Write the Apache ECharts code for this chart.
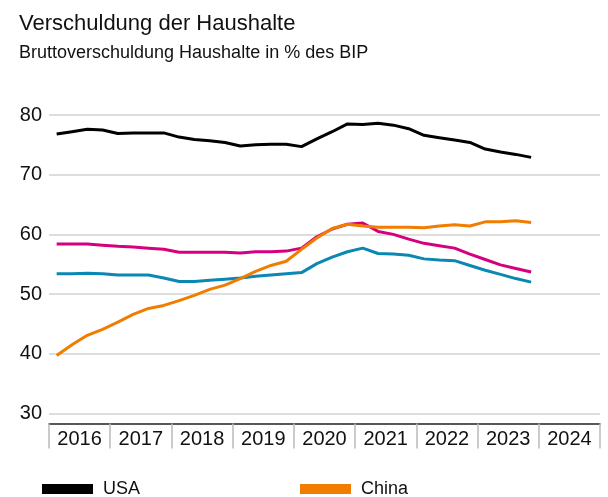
<!DOCTYPE html>
<html>
<head>
<meta charset="utf-8">
<script src="https://cdn.jsdelivr.net/npm/echarts@6/dist/echarts.min.js"></script>
<style>
  html, body { margin: 0; padding: 0; background: #fff; }
  #chart { width: 608px; height: 497px; }
</style>
</head>
<body>
<div id="chart"></div>
<script>
// Household gross debt, % of GDP, quarterly 2016 Q1 – 2023 Q4
const years = ['2016', '2017', '2018', '2019', '2020', '2021', '2022', '2023', '2024'];
const quarters = years.flatMap(y => ['Q1', 'Q2', 'Q3', 'Q4'].map(q => y + ' ' + q));
const yTicks = [30, 40, 50, 60, 70, 80];

const usa = [76.8, 77.2, 77.6, 77.5, 76.9, 77.0, 77.0, 77.0, 76.3, 75.9, 75.7, 75.4,
  74.8, 75.0, 75.1, 75.1, 74.7, 76.0, 77.2, 78.5, 78.4, 78.6, 78.3, 77.7,
  76.6, 76.2, 75.8, 75.4, 74.3, 73.8, 73.4, 72.9];
const euroraum = [58.4, 58.4, 58.4, 58.2, 58.0, 57.9, 57.7, 57.5, 57.0, 57.0, 57.0, 57.0,
  56.9, 57.1, 57.1, 57.2, 57.7, 59.6, 60.9, 61.7, 61.9, 60.5, 60.0, 59.2,
  58.5, 58.1, 57.7, 56.7, 55.8, 54.9, 54.3, 53.7];
const deutschland = [53.4, 53.4, 53.5, 53.4, 53.2, 53.2, 53.2, 52.7, 52.1, 52.1, 52.3, 52.5,
  52.7, 53.0, 53.2, 53.4, 53.6, 55.1, 56.2, 57.1, 57.7, 56.8, 56.7, 56.5,
  55.9, 55.7, 55.6, 54.8, 54.0, 53.3, 52.6, 52.0];
const china = [39.7, 41.5, 43.1, 44.1, 45.3, 46.6, 47.6, 48.1, 48.9, 49.8, 50.8, 51.5,
  52.6, 53.8, 54.8, 55.5, 57.5, 59.4, 61.0, 61.7, 61.4, 61.2, 61.2, 61.2,
  61.1, 61.4, 61.6, 61.4, 62.1, 62.1, 62.3, 62.0];

const sans = "'Liberation Sans', Arial, sans-serif";

const line = (name, data, color) => ({
  name, type: 'line', data, xAxisIndex: 1,
  showSymbol: false, symbol: 'none',
  lineStyle: { color, width: 3 }, itemStyle: { color },
  emphasis: { disabled: true }
});

const legendBase = {
  top: 480, padding: 0, icon: 'rect', itemWidth: 51, itemHeight: 10,
  textStyle: { fontFamily: sans, fontSize: 18, lineHeight: 10, color: '#111', padding: [0, 0, 0, 5] }
};

const chart = echarts.init(document.getElementById('chart'));
chart.setOption({
  animation: false,
  title: [
    { text: 'Verschuldung der Haushalte', left: 14, top: 8,
      textStyle: { fontFamily: sans, fontSize: 22, fontWeight: 'normal', color: '#111' } },
    { text: 'Bruttoverschuldung Haushalte in % des BIP', left: 14, top: 39,
      textStyle: { fontFamily: sans, fontSize: 18, fontWeight: 'normal', color: '#111' } }
  ],
  legend: [
    Object.assign({ left: 42, data: ['USA'] }, legendBase),
    Object.assign({ left: 300, data: ['China'] }, legendBase)
  ],
  grid: { left: 49, right: 8, top: 115, bottom: 83.5 },
  xAxis: [
    {
      type: 'category', data: years, boundaryGap: true, offset: 10,
      axisLine: { lineStyle: { color: '#222', width: 1.5 } },
      axisTick: { show: true, interval: 0, length: 25, lineStyle: { color: '#bbb', width: 1.5 } },
      axisLabel: { interval: 0, fontFamily: sans, fontSize: 20, color: '#111', margin: 6 },
      splitLine: { show: false }
    },
    {
      type: 'category', data: quarters, boundaryGap: true, show: false
    }
  ],
  yAxis: {
    type: 'value', min: yTicks[0], max: yTicks[yTicks.length - 1], interval: 10,
    axisLine: { show: false }, axisTick: { show: false },
    axisLabel: { fontFamily: sans, fontSize: 20, color: '#111', margin: 7 },
    splitLine: { lineStyle: { color: '#d2d2d2', width: 1.5 } }
  },
  series: [
    line('USA', usa, '#000000'),
    line('Deutschland', deutschland, '#0a87b3'),
    line('Euroraum', euroraum, '#d6007e'),
    line('China', china, '#f07d00')
  ]
});
</script>
</body>
</html>
